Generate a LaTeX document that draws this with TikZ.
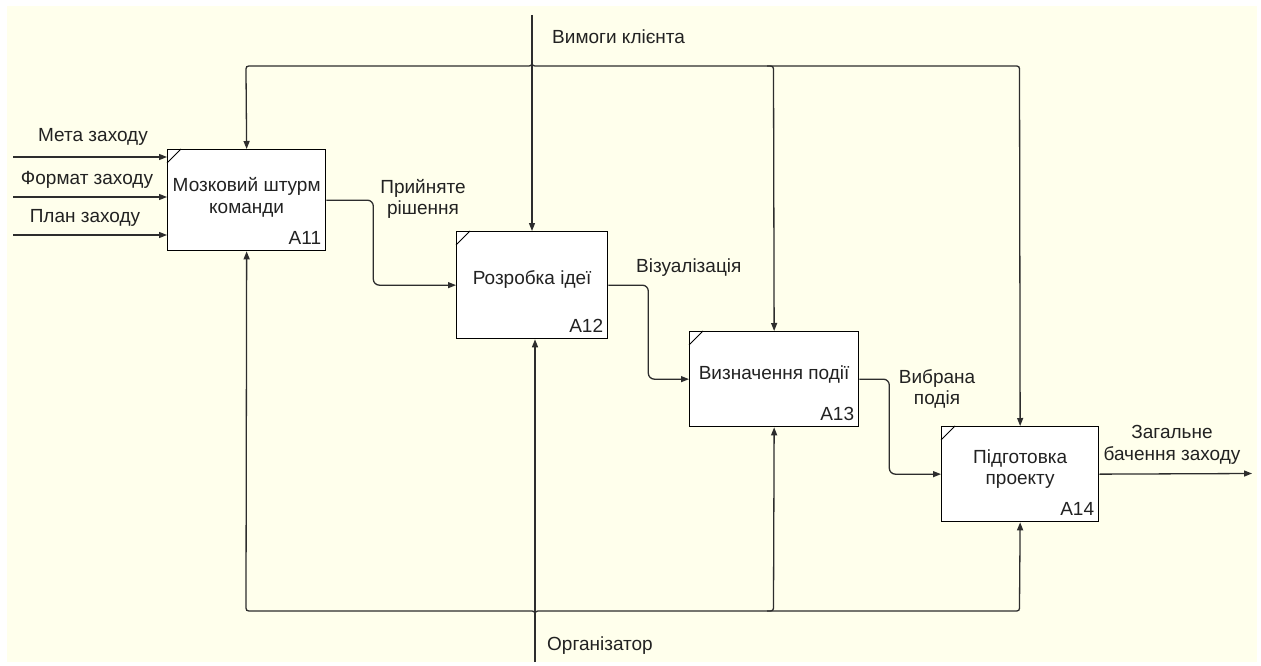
\documentclass[tikz,border=0pt]{standalone}
\usepackage{fontspec}
\setmainfont{Liberation Sans}
\usetikzlibrary{arrows.meta,calc}
\definecolor{paper}{RGB}{255,255,236}
\definecolor{ink}{RGB}{34,34,34}
\definecolor{wire}{RGB}{45,45,45}

\begin{document}
\begin{tikzpicture}[x=1pt,y=-1pt,
  every node/.style={font=\fontsize{19}{21.5}\selectfont, text=ink, inner sep=0pt, align=center},
  func/.style={draw=black, fill=white, line width=1.3pt, minimum width=#1, anchor=north west},
  wireline/.style={draw=wire, line width=1.3pt},
  flow/.style={wireline, -{Triangle[length=8pt,width=6pt]}},
  boxid/.style={anchor=east},
]
% page and paper
\useasboundingbox (0,0) rectangle (1261,666);
\fill[paper] (7,6) rectangle (1257,662);

% activity boxes
\node[func=158pt, minimum height=101pt] (a11) at (167,149) {};
\node[func=151pt, minimum height=107pt] (a12) at (456,231) {};
\node[func=169pt, minimum height=95pt]  (a13) at (689,331) {};
\node[func=157pt, minimum height=95pt]  (a14) at (941,426) {};

% corner ticks
\foreach \b in {a11,a12,a13,a14}
  \draw[line width=1pt] ($(\b.north west)+(0,14)$) -- ++(14,-14);

% box titles
\node at ($(a11.center)+(0,-3)$) {Мозковий штурм\\команди};
\node at ($(a12.center)+(0,-6)$) {Розробка ідеї};
\node at ($(a13.center)+(0,-5)$) {Визначення події};
\node at ($(a14.center)+(0,-5)$) {Підготовка\\проекту};

% box numbers
\node[boxid] at ($(a11.south east)+(-5,-13)$) {A11};
\node[boxid] at ($(a12.south east)+(-5,-13)$) {A12};
\node[boxid] at ($(a13.south east)+(-5,-13)$) {A13};
\node[boxid] at ($(a14.south east)+(-5,-13)$) {A14};

% inputs
\coordinate (in1) at (13,157);
\coordinate (in2) at (13,197);
\coordinate (in3) at (13,235);
\draw[flow] (in1) -- (in1 -| a11.west);
\draw[flow] (in2) -- (in2 -| a11.west);
\draw[flow] (in3) -- (in3 -| a11.west);
\node at (93,137) {Мета заходу};
\node at (87,180) {Формат заходу};
\node at (85,218) {План заходу};

% control: client requirements, split into a bus along the top
\coordinate (ctl) at (532,15);
\coordinate (ctlsplit) at (532,60);
\draw[flow] (ctl) -- (ctl |- a12.north);
\draw[flow] (ctlsplit) .. controls (532,66) .. (526,66) -- (252,66)
  .. controls (246,66) .. (246,72) -- (a11.north);
\draw[flow] (ctlsplit) .. controls (532,66) .. (538,66) -- (1013.5,66)
  .. controls (1019.5,66) .. (1019.5,72) -- (a14.north);
\draw[flow] (767,66) .. controls (773.5,66) .. (773.5,72) -- (a13.north);
\node[anchor=west] at (552,37) {Вимоги клієнта};

% mechanism: organiser, joined by a bus along the bottom
\coordinate (mech) at (535,662);
\coordinate (mechjoin) at (535,617);
\draw[flow] (mech) -- (mech |- a12.south);
\draw[flow] (mechjoin) .. controls (535,611) .. (529,611) -- (252,611)
  .. controls (246,611) .. (246,605) -- (a11.south);
\draw[flow] (mechjoin) .. controls (535,611) .. (541,611) -- (1013.5,611)
  .. controls (1019.5,611) .. (1019.5,605) -- (a14.south);
\draw[flow] (767,611) .. controls (773.5,611) .. (773.5,605) -- (a13.south);
\node[anchor=west] at (547,646) {Організатор};

% outputs passed along the chain
\draw[flow, rounded corners=6pt] (a11.east) -- ++(47,0) |- (a12.west);
\node at (423,199) {Прийняте\\рішення};
\draw[flow, rounded corners=6pt] (a12.east) -- ++(40,0) |- (a13.west);
\node[anchor=west] at (636,268) {Візуалізація};
\draw[flow, rounded corners=6pt] (a13.east) -- ++(30,0) |- (a14.west);
\node at (937,389) {Вибрана\\подія};

% final output
\coordinate (result) at (1252,473.5);
\draw[flow] (a14.east) -- (result);
\node at (1172,445) {Загальне\\бачення заходу};
\end{tikzpicture}
\end{document}
